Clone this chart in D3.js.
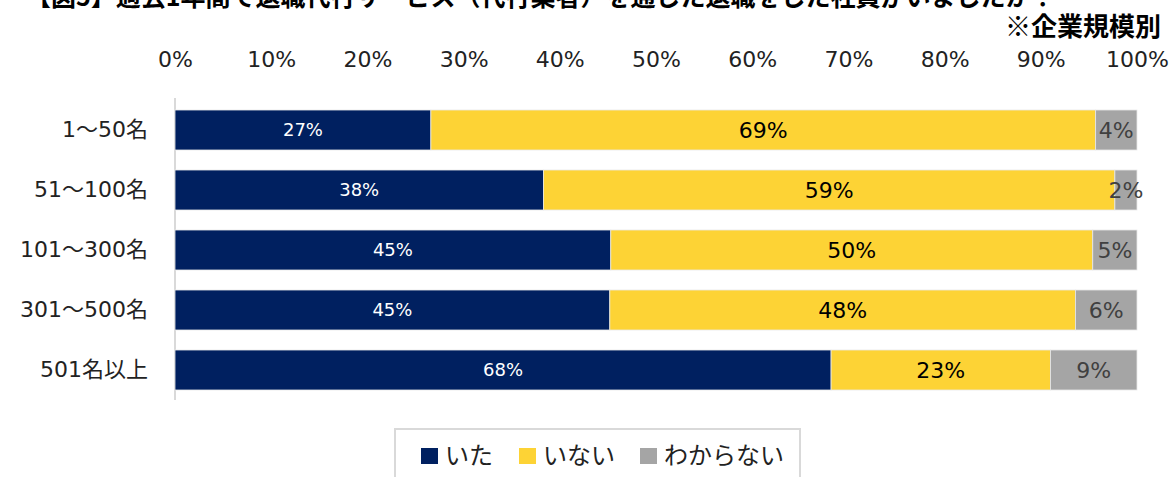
<!DOCTYPE html>
<html><head><meta charset="utf-8">
<script src="https://cdn.jsdelivr.net/npm/d3@7"></script>
<style>
body{margin:0;background:#fff;}
svg{display:block;font-family:"DejaVu Sans","Noto Sans CJK JP",sans-serif;}
</style></head><body>
<svg id="c" width="1173" height="477"></svg>
<script>
const categories = ["1～50名","51～100名","101～300名","301～500名","501名以上"];
const seriesNames = ["いた","いない","わからない"];
const itaValues = [26.6, 38.3, 45.3, 45.2, 68.2];
const inaiValues = [69.1, 59.4, 50.1, 48.4, 22.8];
const wakaranaiValues = [4.3, 2.3, 4.6, 6.4, 9.0];
const tickValues = [0,10,20,30,40,50,60,70,80,90,100];
const titleText = "【図5】過去1年間で退職代行サービス（代行業者）を通じた退職をした社員がいましたか？";
const subtitleText = "※企業規模別";

const colors = ["#002060","#FDD335","#A5A5A5"];
const labelColors = ["#ffffff","#000000","#404040"];
const labelSizes = [18,22,22];

const rows = categories.map((c,i)=>({cat:c, "いた":itaValues[i], "いない":inaiValues[i], "わからない":wakaranaiValues[i]}));
const stack = d3.stack().keys(seriesNames)(rows);

const svg = d3.select("#c");
const x = d3.scaleLinear().domain([0,100]).range([175,1137]);
const y = d3.scaleBand().domain(categories).range([100,400]).paddingInner(1/3).paddingOuter(1/6);

// title (cut off at top)
svg.append("text").attr("x",26).attr("y",6).attr("font-size",25).attr("font-weight","bold")
  .attr("font-family","'Noto Sans CJK JP',sans-serif").attr("fill","#000").text(titleText);
svg.append("text").attr("x",1161).attr("y",36).attr("text-anchor","end").attr("font-size",26).attr("font-weight","bold")
  .attr("font-family","'Noto Sans CJK JP',sans-serif").attr("fill","#000").text(subtitleText);

// top axis
const ax = svg.append("g").attr("transform","translate(0,67)")
  .call(d3.axisTop(x).tickValues(tickValues).tickSize(0).tickPadding(0).tickFormat(d=>d+"%"));
ax.select(".domain").remove();
ax.selectAll("text").attr("font-size",22).attr("fill","#222").attr("font-family","'DejaVu Sans',sans-serif");

// category axis
const ay = svg.append("g").attr("transform","translate(175,0)")
  .call(d3.axisLeft(y).tickSize(0).tickPadding(27));
ay.select(".domain").attr("stroke","#d9d9d9").attr("stroke-width",2).attr("d","M0,98V400");
ay.selectAll("text").attr("font-size",22).attr("fill","#222").attr("font-family","'DejaVu Sans','Noto Sans CJK JP',sans-serif");

// bars
stack.forEach((s,si)=>{
  const g = svg.append("g");
  g.selectAll("rect").data(s).join("rect")
    .attr("x",d=>x(d[0])).attr("y",d=>y(d.data.cat))
    .attr("width",d=>x(d[1])-x(d[0])).attr("height",y.bandwidth())
    .attr("fill",colors[si]).attr("stroke","#e8e8e8").attr("stroke-width",0.8);
});
stack.forEach((s,si)=>{
  svg.append("g").selectAll("text").data(s).join("text")
    .attr("x",d=>(x(d[0])+x(d[1]))/2).attr("y",d=>y(d.data.cat)+y.bandwidth()/2)
    .attr("dy","0.36em").attr("text-anchor","middle")
    .attr("font-size",labelSizes[si]).attr("fill",labelColors[si])
    .attr("font-family","'DejaVu Sans',sans-serif")
    .text(d=>d3.format(".0f")(d[1]-d[0])+"%");
});

// legend
const lg = svg.append("g");
lg.append("rect").attr("x",395).attr("y",429).attr("width",405).attr("height",60)
  .attr("fill","#fff").attr("stroke","#d9d9d9").attr("stroke-width",2);
const legX = [421,519,640];
seriesNames.forEach((n,i)=>{
  lg.append("rect").attr("x",legX[i]).attr("y",448).attr("width",17).attr("height",16).attr("fill",colors[i]);
  lg.append("text").attr("x",legX[i]+24).attr("y",464).attr("font-size",24).attr("fill","#222")
    .attr("font-family","'Noto Sans CJK JP',sans-serif").text(n);
});
</script>
</body></html>
